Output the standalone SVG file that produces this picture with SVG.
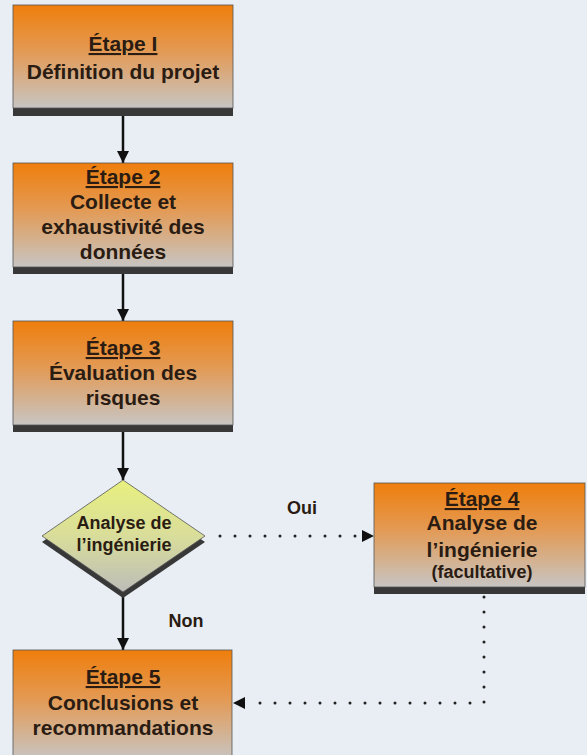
<svg xmlns="http://www.w3.org/2000/svg" width="587" height="755" viewBox="0 0 587 755">
<defs>
<linearGradient id="gBox" x1="0" y1="0" x2="0" y2="1">
<stop offset="0" stop-color="#EF7E0C"/>
<stop offset="0.45" stop-color="#E39A55"/>
<stop offset="1" stop-color="#C7C5C3"/>
</linearGradient>
<linearGradient id="gDia" x1="0" y1="0" x2="0" y2="1">
<stop offset="0" stop-color="#E8F07E"/>
<stop offset="0.5" stop-color="#D9DD9A"/>
<stop offset="1" stop-color="#BDBDB8"/>
</linearGradient>
<marker id="ah" viewBox="0 0 10 10" refX="10" refY="5" markerWidth="5" markerHeight="5" markerUnits="strokeWidth" orient="auto">
<path d="M0,0 L10,5 L0,10 Z" fill="#111"/>
</marker>
<marker id="ahd" viewBox="0 0 10 10" refX="10" refY="5" markerWidth="12" markerHeight="12" markerUnits="userSpaceOnUse" orient="auto">
<path d="M0,0 L10,5 L0,10 Z" fill="#111"/>
</marker>
</defs>
<style>
.box{fill:url(#gBox);stroke:#555;stroke-width:0.8}
.shadow{fill:#383838}
.t{font-family:"Liberation Sans",Arial,sans-serif;font-weight:bold;font-size:21px;fill:#2A1C12;text-anchor:middle}
.s{font-size:18px}
.u{text-decoration:underline}
.solid{stroke:#111;stroke-width:2.5;fill:none;marker-end:url(#ah)}
.dot{stroke:#222;stroke-width:3;stroke-linecap:round;stroke-dasharray:0 15;fill:none}
</style>
<rect width="587" height="755" fill="#E8EEF4"/>

<g id="connectors">
<line class="solid" x1="123" y1="116" x2="123" y2="163"/>
<line class="solid" x1="123" y1="274" x2="123" y2="321"/>
<line class="solid" x1="123" y1="432" x2="123" y2="480"/>
<line class="solid" x1="123" y1="596" x2="123" y2="650"/>
<line class="dot" x1="220" y1="536" x2="362" y2="536"/>
<line x1="362" y1="536" x2="374" y2="536" stroke="none" marker-end="url(#ahd)"/>
<polyline class="dot" points="484,597 484,703 246,703"/>
<line x1="246" y1="703" x2="233" y2="703" stroke="none" marker-end="url(#ahd)"/>
<text class="t s" x="302" y="514">Oui</text>
<text class="t s" x="186" y="627">Non</text>
</g>

<g id="step1">
<rect class="shadow" x="13" y="12" width="220" height="104"/>
<rect class="box" x="13" y="5" width="220" height="103"/>
<text class="t u" x="123" y="51">Étape I</text>
<text class="t" x="123" y="79">Définition du projet</text>
</g>

<g id="step2">
<rect class="shadow" x="13" y="170" width="220" height="104"/>
<rect class="box" x="13" y="163" width="220" height="104"/>
<text class="t u" x="123" y="184">Étape 2</text>
<text class="t" x="123" y="209">Collecte et</text>
<text class="t" x="123" y="234">exhaustivité des</text>
<text class="t" x="123" y="259">données</text>
</g>

<g id="step3">
<rect class="shadow" x="13" y="328" width="220" height="104"/>
<rect class="box" x="13" y="321" width="220" height="104"/>
<text class="t u" x="123" y="355">Étape 3</text>
<text class="t" x="123" y="380">Évaluation des</text>
<text class="t" x="123" y="405">risques</text>
</g>

<g id="decision">
<polygon points="123,486 205,542 123,598 42,542" fill="#383838"/>
<polygon points="123,480 205,536 123,592 42,536" fill="url(#gDia)" stroke="#555" stroke-width="0.8"/>
<text class="t s" x="124" y="529">Analyse de</text>
<text class="t s" x="124" y="551">l’ingénierie</text>
</g>

<g id="step4">
<rect class="shadow" x="374" y="490" width="211" height="104"/>
<rect class="box" x="374" y="483" width="211" height="104"/>
<text class="t u" x="482" y="506">Étape 4</text>
<text class="t" x="482" y="530">Analyse de</text>
<text class="t" x="482" y="557">l’ingénierie</text>
<text class="t s" x="482" y="578">(facultative)</text>
</g>

<g id="step5">
<rect class="box" x="13" y="650" width="219" height="110"/>
<text class="t u" x="123" y="684">Étape 5</text>
<text class="t" x="123" y="710">Conclusions et</text>
<text class="t" x="123" y="735">recommandations</text>
</g>
</svg>
